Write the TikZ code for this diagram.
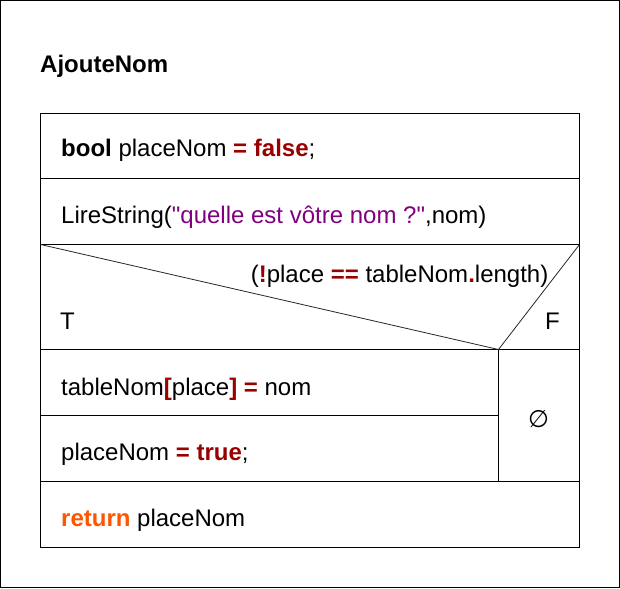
\documentclass[tikz,border=0pt]{standalone}
\usepackage{fontspec}
\setmainfont{Liberation Sans}[Ligatures=TeXOff]
\newfontfamily\symfont{DejaVu Sans}
\usetikzlibrary{positioning}
\definecolor{kwred}{RGB}{153,0,0}
\definecolor{strpurple}{RGB}{128,0,128}
\definecolor{retorange}{RGB}{255,85,0}
\newcommand{\kwd}[1]{\textcolor{kwred}{\textbf{#1}}}
\newcommand{\strv}[1]{\textcolor{strpurple}{#1}}

\begin{document}
\begin{tikzpicture}[x=1pt, y=-1pt, every node/.style={font=\fontsize{24}{28}\selectfont, inner sep=0pt}]
  \def\L{40.5}
  \def\R{579.5}
  \def\M{498.5}
  \def\TX{61}
  \tikzset{
    outer/.style={draw=black, line width=1pt},
    rule/.style={draw=black, line width=1pt},
    diag/.style={draw=black!85, line width=0.8pt},
    code/.style={anchor=base west},
  }
  \useasboundingbox (0,0) rectangle (620,588);

  %% ===== Frame and title =====
  \draw[outer] (0.5,0.5) rectangle (619.5,587.5);
  \node[code, font=\fontsize{24}{28}\selectfont\bfseries] (title) at (40,73) {AjouteNom};

  %% ===== Structogram blocks =====
  \draw[rule] (\L,113.5) rectangle (\R,547.5);
  \draw[rule] (\L,178.5) -- (\R,178.5);
  \draw[rule] (\L,244.5) -- (\R,244.5);
  \draw[rule] (\L,349.5) -- (\R,349.5);
  \draw[rule] (\L,415.5) -- (\M,415.5);
  \draw[rule] (\L,481.5) -- (\R,481.5);
  \draw[rule] (\M,349.5) -- (\M,481.5);
  % condition triangle
  \coordinate (tip) at (\M,349.5);
  \draw[diag] (\L,244.5) -- (tip) -- (\R,244.5);

  %% ===== Statements =====
  \node[code] (decl) at (\TX,157) {\textbf{bool} placeNom \kwd{=} \kwd{false};};
  \node[code] (read) at (\TX,223) {LireString(\strv{"quelle est vôtre nom ?"},nom)};
  \node[anchor=base east] (cond) at (548.5,282) {(\kwd{!}place \kwd{==} tableNom\kwd{.}length)};
  \node[code] (yes) at (60,329) {T};
  \node[code] (no) at (545,329) {F};
  \node[code] (store) at (\TX,395) {tableNom\kwd{[}place\kwd{]} \kwd{=} nom};
  \node[code] (flag) at (\TX,460) {placeNom \kwd{=} \kwd{true};};
  \node[font=\fontsize{24}{28}\symfont] (empty) at (538.5,419) {∅};
  \node[code] (ret) at (\TX,526) {\textcolor{retorange}{\textbf{return}} placeNom};
\end{tikzpicture}
\end{document}
